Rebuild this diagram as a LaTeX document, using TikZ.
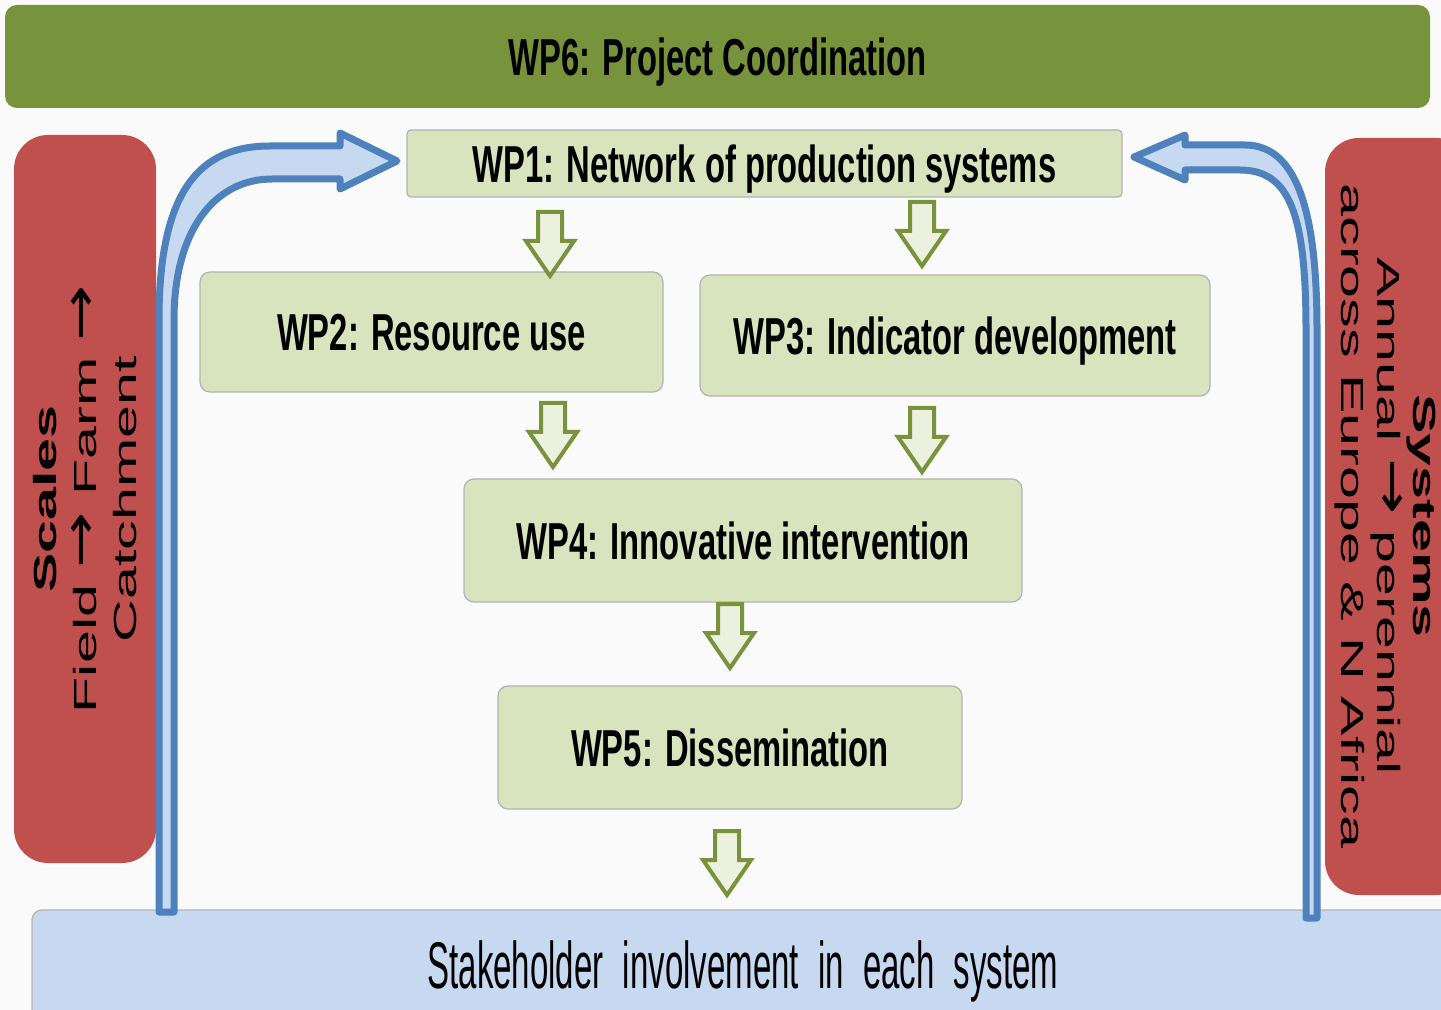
\documentclass[tikz,border=0pt]{standalone}
\usepackage{fontspec}
\setmainfont{Liberation Sans}
\newfontfamily\wpfont[FakeStretch=0.63]{Liberation Sans}
\newfontfamily\stakefont[FakeStretch=0.5,WordSpace=2.1]{Liberation Sans}
\newfontfamily\sidefont[FakeStretch=1.85]{Liberation Sans}
\newfontfamily\arrowfont[FakeStretch=1.4]{DejaVu Sans}
\newcommand\toarrow{{\arrowfont\fontsize{24}{20}\selectfont →}}
\definecolor{wpdark}{HTML}{77933C}
\definecolor{wplight}{HTML}{D7E4BD}
\definecolor{boxline}{HTML}{B3B3B3}
\definecolor{scalered}{HTML}{C0504D}
\definecolor{stakeblue}{HTML}{C6D9F1}
\definecolor{loopblue}{HTML}{4F81BD}
\definecolor{flowfill}{HTML}{EBF1DE}
\definecolor{paper}{HTML}{FAFAFA}
\tikzset{
  wp/.style={
    draw=boxline,
    fill=wplight,
    line width=0.6pt,
    rounded corners=5pt,
    inner sep=0pt,
    text depth=0pt,
  font=\wpfont\bfseries\fontsize{26}{30}\selectfont
  },
  side/.style={
    fill=scalered,
    rounded corners=17pt,
    inner sep=0pt,
    align=center,
  font=\sidefont\fontsize{16}{20}\selectfont
  },
  flow/.style={draw=wpdark,fill=flowfill,line width=2pt},
  loop/.style={draw=loopblue,fill=stakeblue,line width=3.5pt,line join=round},
  flowarrow/.pic={
    \path[flow] (-12,0) -- (12,0) -- (12,29) -- (24,29) -- (0,64)
      -- (-24,29) -- (-12,29) -- cycle;
  }
}
\begin{document}
\begin{tikzpicture}[x=0.5pt,y=-0.5pt]
    \useasboundingbox (0,0) rectangle (1441,1010);
    \clip (0,0) rectangle (1441,1010);
    \fill[paper] (0,0) rectangle (1441,1010);
    \node[wp,draw=none,fill=wpdark,rounded corners=6pt,minimum width=712.5pt,minimum height=51.5pt] (wp6) at (717.5,56.5) {WP6: Project Coordination};
    \node[side,rotate=90,minimum width=364pt,minimum height=71pt] (scales) at (85,499) {\textbf{Scales}\\Field \toarrow{} Farm \toarrow\\Catchment};
    \node[side,minimum width=72.5pt,minimum height=378.5pt] (systems) at (1397.5,516.5) {};
    \node[side,fill=none,rotate=-90,font=\sidefont\fontsize{16}{18}\selectfont] (systemstext) at (1385,516) {\textbf{Systems}\\Annual \toarrow{} perennial\\across Europe \& N Africa};
    \node[wp,font=\stakefont\fontsize{33}{36}\selectfont,fill=stakeblue,minimum width=711pt,minimum height=55pt] (stake) at (743,965) {Stakeholder involvement in each system};
    \node[wp,rounded corners=2pt,minimum width=357.5pt,minimum height=33.5pt] (wp1) at (764.5,163.5) {WP1: Network of production systems};
    \node[wp,minimum width=231.5pt,minimum height=60pt] (wp2) at (431.5,332) {WP2: Resource use};
    \node[wp,minimum width=255pt,minimum height=60.5pt] (wp3) at (955,335.5) {WP3: Indicator development};
    \node[wp,minimum width=279pt,minimum height=61.5pt] (wp4) at (743,540.5) {WP4: Innovative intervention};
    \node[wp,minimum width=232pt,minimum height=61.5pt] (wp5) at (730,747.5) {WP5: Dissemination};
    \pic at (550,212) {flowarrow};
    \pic at (922,202) {flowarrow};
    \pic at (553,403) {flowarrow};
    \pic at (922,408) {flowarrow};
    \pic at (730,604) {flowarrow};
    \pic at (727,831) {flowarrow};
    \path[loop] (159,912) -- (159,320) .. controls (159,190) and (200,146) .. (270,146)
      -- (340,146) -- (340,133) -- (397,161) -- (340,189) -- (340,179) -- (272,179)
      .. controls (215,179) and (174,230) .. (174,320) -- (174,912) -- cycle;
    \path[loop] (1306,918) -- (1306,330) .. controls (1306,215) and (1290,170) .. (1240,170)
      -- (1185,170) -- (1185,180) -- (1134,157) -- (1185,135) -- (1185,145) -- (1245,145)
      .. controls (1300,145) and (1317,220) .. (1317,330) -- (1317,918) -- cycle;
\end{tikzpicture}
\end{document}
